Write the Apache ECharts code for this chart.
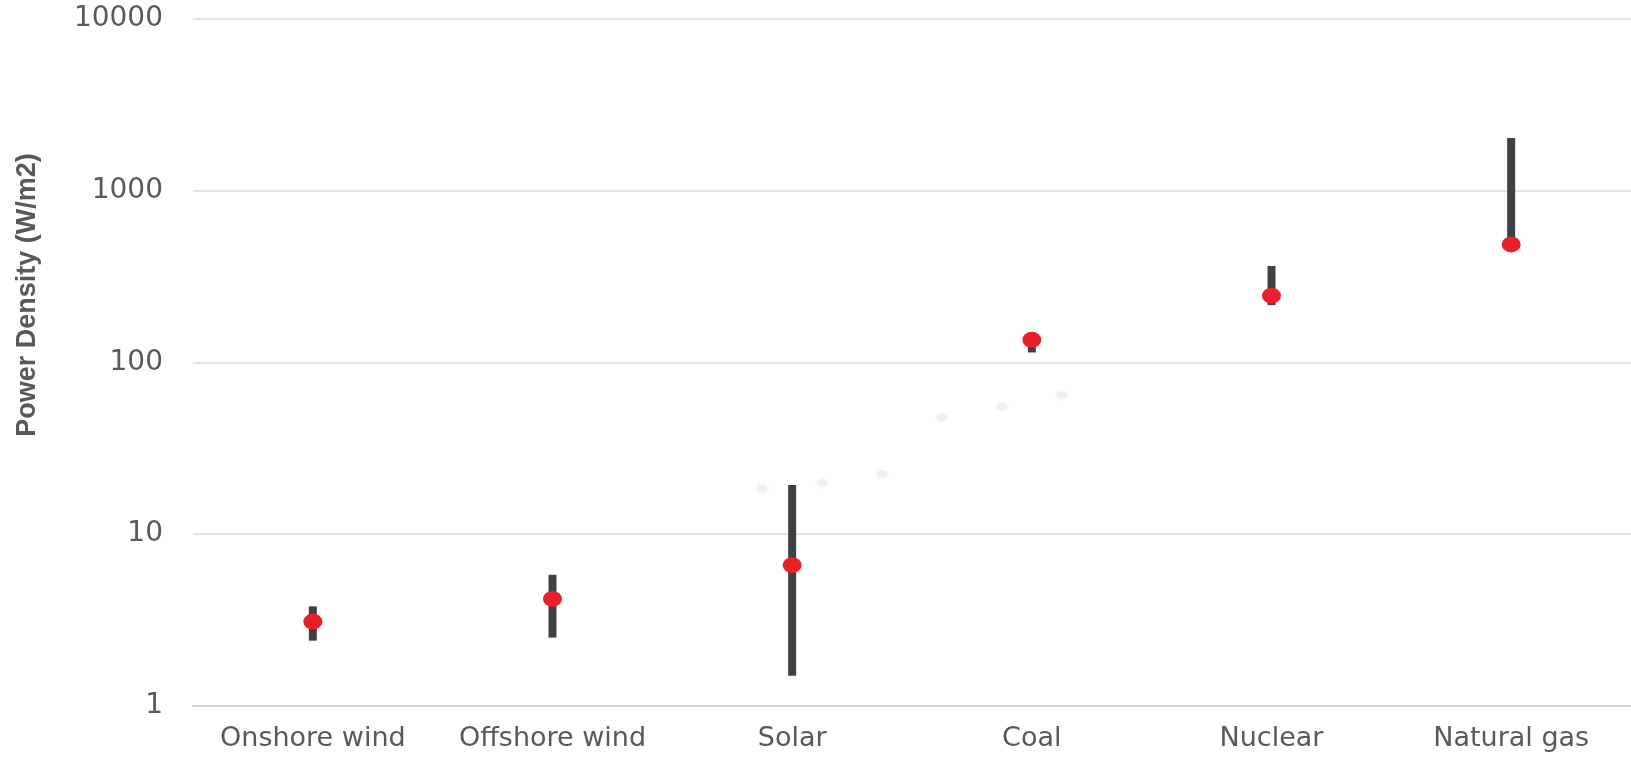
<!DOCTYPE html>
<html>
<head>
<meta charset="utf-8">
<title>Power Density by Energy Source</title>
<script src="https://cdn.jsdelivr.net/npm/echarts@6/dist/echarts.min.js"></script>
<style>
  html, body { margin: 0; padding: 0; background: #ffffff; }
  #chart { width: 1631px; height: 757px; }
</style>
</head>
<body>
<div id="chart"></div>
<script>
// Energy sources along the horizontal axis
const categories = ['Onshore wind', 'Offshore wind', 'Solar', 'Coal', 'Nuclear', 'Natural gas'];

// Typical power density (W/m2), shown as red dots
const typicalDensity = [3.1, 4.2, 6.6, 135, 244, 485];

// Low and high ends of each source's range (W/m2), shown as dark bars
const rangeLow = [2.4, 2.5, 1.5, 114, 215, 485];
const rangeHigh = [3.8, 5.8, 19.3, 135, 363, 2020];

// Faint background points (position along the category axis, W/m2)
const faintPos = [1.875, 2.125, 2.375, 2.625, 2.875, 3.125];
const faintValues = [18.5, 19.9, 22.3, 47.8, 55.1, 64.4];

// Log-scale tick values on the vertical axis
const yTicks = [1, 10, 100, 1000, 10000];

const textColor = '#595959';
const gridColor = '#dadada';

const rangeData = categories.map((c, i) => [i, rangeLow[i], rangeHigh[i]]);
const dotData = categories.map((c, i) => [i, typicalDensity[i]]);
const faintData = faintPos.map((p, i) => [p, faintValues[i]]);

const chart = echarts.init(document.getElementById('chart'), null, { renderer: 'canvas' });

chart.setOption({
  animation: false,
  backgroundColor: '#ffffff',
  grid: { left: 193, right: -9, top: 18.5, bottom: 51, containLabel: false },
  xAxis: [
    {
      type: 'category',
      data: categories,
      boundaryGap: true,
      axisLine: { show: true, lineStyle: { color: '#d4d4d4', width: 2 } },
      axisTick: { show: false },
      axisLabel: {
        color: textColor,
        fontFamily: 'DejaVu Sans',
        fontSize: 27,
        margin: 19,
        interval: 0
      },
      splitLine: { show: false }
    },
    {
      type: 'value',
      min: -0.5,
      max: 5.5,
      show: false,
      splitLine: { show: false }
    }
  ],
  yAxis: {
    type: 'log',
    logBase: 10,
    min: yTicks[0],
    max: yTicks[yTicks.length - 1],
    axisLine: { show: false },
    axisTick: { show: false },
    axisLabel: {
      color: textColor,
      fontFamily: 'DejaVu Sans',
      fontSize: 28,
      margin: 30,
      formatter: v => String(Math.round(v))
    },
    splitLine: { show: true, lineStyle: { color: gridColor, width: 1.5 } }
  },
  graphic: [
    {
      type: 'text',
      x: 28,
      y: 295,
      rotation: Math.PI / 2,
      style: {
        text: 'Power Density (W/m2)',
        fill: textColor,
        font: 'bold 27px "Liberation Sans", Arial, sans-serif',
        textAlign: 'center',
        textVerticalAlign: 'middle'
      }
    }
  ],
  series: [
    {
      name: 'Faint points',
      type: 'scatter',
      xAxisIndex: 1,
      data: faintData,
      symbol: 'circle',
      symbolSize: [11, 7],
      itemStyle: { color: '#eeeeee', opacity: 1, shadowBlur: 5, shadowColor: '#f0f0f0' },
      z: 1,
      silent: true
    },
    {
      name: 'Range',
      type: 'custom',
      xAxisIndex: 0,
      data: rangeData,
      encode: { x: 0, y: [1, 2] },
      renderItem: function (params, api) {
        const idx = api.value(0);
        const lo = api.coord([idx, api.value(1)]);
        const hi = api.coord([idx, api.value(2)]);
        const w = 8;
        return {
          type: 'rect',
          shape: { x: lo[0] - w / 2, y: hi[1], width: w, height: Math.max(lo[1] - hi[1], 1) },
          style: { fill: '#404040' }
        };
      },
      z: 2
    },
    {
      name: 'Typical',
      type: 'scatter',
      xAxisIndex: 0,
      data: dotData,
      symbol: 'circle',
      symbolSize: [19, 16],
      itemStyle: { color: '#e8202a', opacity: 1 },
      z: 3
    }
  ]
});
</script>
</body>
</html>
